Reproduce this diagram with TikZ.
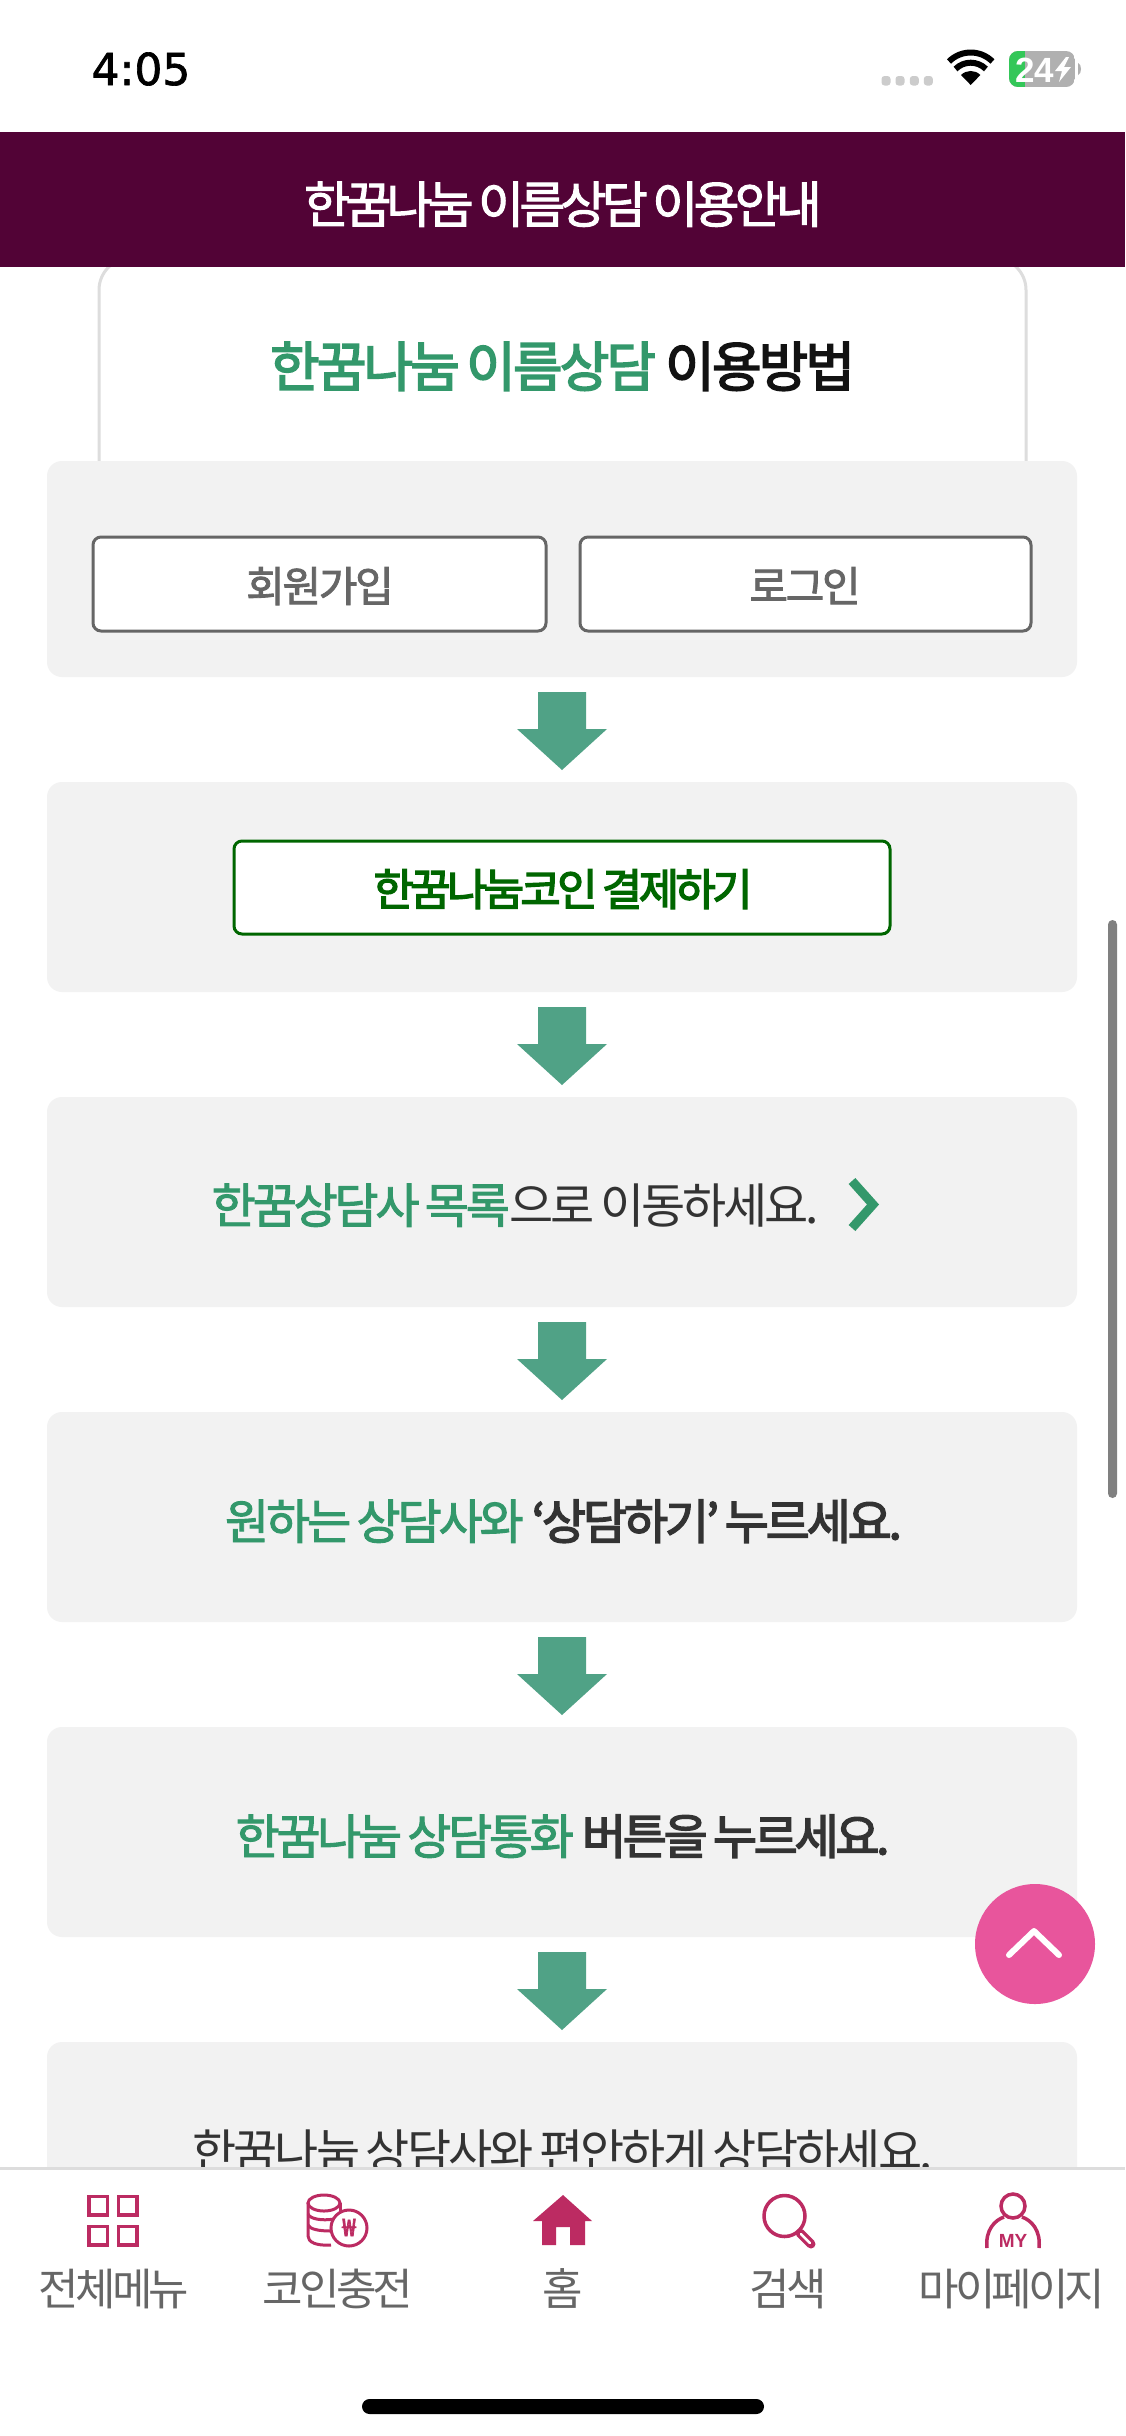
\documentclass[tikz,border=0pt]{standalone}
\usepackage{fontspec}
\newfontfamily\kreg{Noto Sans CJK KR}[WordSpace=0.7]
\newfontfamily\kmed{Noto Sans CJK KR}[FakeBold=2,WordSpace=0.7]
\newfontfamily\kbold{Noto Sans CJK KR}[FakeBold=3,WordSpace=0.7]
\newfontfamily\sysfont{DejaVu Sans}[FakeBold=1.5]
\newfontfamily\sysbold{Liberation Sans Bold}
\definecolor{hdr}{HTML}{520336}
\definecolor{panelbg}{HTML}{F2F2F2}
\definecolor{arrowg}{HTML}{50A286}
\definecolor{textg}{HTML}{33986B}
\definecolor{textd}{HTML}{333333}
\definecolor{btn}{HTML}{666666}
\definecolor{btng}{HTML}{006600}
\definecolor{crim}{HTML}{BC2B62}
\definecolor{pinkb}{HTML}{E8559C}
\definecolor{lineg}{HTML}{DDDDDD}
\definecolor{batg}{HTML}{34C759}
\newcommand\ktrack{0}
\newcommand\kR[1]{{\kreg\addfontfeature{LetterSpace=\ktrack}#1}}
\newcommand\kM[1]{{\kmed\addfontfeature{LetterSpace=\ktrack}#1}}
\newcommand\kB[1]{{\kbold\addfontfeature{LetterSpace=\ktrack}#1}}
\newcommand\wgap{\hspace{0.17em}}
% name, x, centre y, size, tracking, content
\newcommand\ktxt[6]{%
  \pgfmathsetmacro\kyy{#3+0.40*#4}%
  \node[txt] (#1) at (#2,\kyy) {\fontsize{#4}{#4}\selectfont\renewcommand\ktrack{#5}#6};}
\newcommand\flowpanel[3]{\fill[panelbg,rounded corners=15pt] (47,#2) rectangle (1077,#3) node[pos=.5,inner sep=0,minimum size=0] (#1) {};}
\newcommand\flowarrow[2]{\fill[arrowg] (538,#2) -- (586,#2) -- (586,#2+37) -- (607,#2+37) -- (562,#2+78) -- (517,#2+37) -- (538,#2+37) -- cycle;
  \coordinate (#1) at (562,#2);}
\tikzset{
  txt/.style={anchor=base,inner sep=0,outer sep=0},
  btnbox/.style={fill=white,draw=btn,line width=3pt,rounded corners=8pt},
  ico/.style={draw=crim,line width=3.5pt},
}
\begin{document}
\begin{tikzpicture}[x=1pt,y=-1pt]
\useasboundingbox (0,0) rectangle (1125,2436);
\fill[white] (0,0) rectangle (1125,2436);
% card
\draw[draw=lineg,line width=3pt,rounded corners=32pt] (99,480) -- (99,258) -- (1026,258) -- (1026,480);
% header
\fill[hdr] (0,132) rectangle (1125,267);
\ktxt{head}{563}{203}{50}{-9.6}{\textcolor{white}{\kM{한꿈나눔 이름상담 이용안내}}}
\ktxt{title}{562.5}{365}{54}{-5.5}{\textcolor{textg}{\kB{한꿈나눔 이름상담}}\wgap\textcolor{black!93}{\kB{이용방법}}}
% panels
\flowpanel{p1}{461}{677}
\flowpanel{p2}{782}{992}
\flowpanel{p3}{1097}{1307}
\flowpanel{p4}{1412}{1622}
\flowpanel{p5}{1727}{1937}
\flowpanel{p6}{2042}{2300}
% buttons
\draw[btnbox] (93,537) rectangle (546,631);
\draw[btnbox] (580,537) rectangle (1031,631);
\ktxt{join}{320}{585}{42}{-5.5}{\textcolor{btn}{\kM{회원가입}}}
\ktxt{login}{805}{585}{42}{-5.5}{\textcolor{btn}{\kM{로그인}}}
\draw[btnbox,draw=btng] (234,841) rectangle (890,934);
\ktxt{coin}{563}{888}{44}{-8.5}{\textcolor{btng}{\kB{한꿈나눔코인 결제하기}}}
% arrows
\flowarrow{a1}{692}
\flowarrow{a2}{1007}
\flowarrow{a3}{1322}
\flowarrow{a4}{1637}
\flowarrow{a5}{1952}
% step texts
\ktxt{s3}{515}{1204}{48}{-6.7}{\textcolor{textg}{\kM{한꿈상담사 목록}}\textcolor{textd}{\kR{으로 이동하세요.}}}
\draw[textg,line width=9pt] (852,1181) -- (873,1204.5) -- (852,1228);
\ktxt{s4}{563.5}{1520}{48}{-6.6}{\textcolor{textg}{\kM{원하는 상담사와}}\wgap\textcolor{textd}{\kB{‘상담하기’ 누르세요.}}}
\ktxt{s5}{562.5}{1835}{48}{-7}{\textcolor{textg}{\kM{한꿈나눔 상담통화}}\wgap\textcolor{textd}{\kB{버튼을 누르세요.}}}
\ktxt{s6}{562.5}{2150}{48}{-6}{\textcolor{textd}{\kR{한꿈나눔 상담사와 편안하게 상담하세요.}}}
% scrollbar
\fill[black!50,rounded corners=4.5pt] (1108,920) rectangle (1117,1498);
% top button
\fill[pinkb] (1035,1944) circle (60);
\draw[white,line width=6pt,line cap=round,line join=round] (1009,1955) -- (1034,1931) -- (1059,1955);
% bottom nav
\fill[white] (0,2168) rectangle (1125,2436);
\draw[lineg,line width=3pt] (0,2168) -- (1125,2168);
% grid icon
\foreach \x/\y in {87.5/2195,117/2195,87.5/2225,117/2225}
  \draw[ico] (\x+1.5,\y+1.5) rectangle (\x+20,\y+20);
% coin icon
\draw[ico,line width=3pt] (324,2203) ellipse (16 and 8);
\draw[ico,line width=3pt] (308,2203) -- (308,2236) .. controls (308,2242) and (316,2246) .. (331,2245);
\draw[ico,line width=3pt] (308,2214) .. controls (310,2219) and (322,2221) .. (334,2219);
\draw[ico,line width=3pt] (308,2225) .. controls (310,2229) and (318,2231) .. (331,2231);
\draw[ico,line width=3pt] (340,2203) -- (340,2211);
\fill[white] (349,2228) circle (19);
\draw[ico,line width=3pt] (349,2228) circle (18);
\node[txt,text=crim,font=\kbold\fontsize{24}{24}\selectfont] (won) at (349,2236) {₩};
% home icon
\fill[crim] (563,2195) -- (592,2221) -- (585,2221) -- (585,2245) -- (570,2245) -- (570,2227) -- (556,2227) -- (556,2245) -- (542,2245) -- (542,2221) -- (533,2221) -- cycle;
% search icon
\draw[ico] (784.5,2216) circle (20.5);
\draw[crim,line width=9pt,line cap=round] (800,2233) -- (811,2244);
\draw[white,line width=2.5pt,line cap=round] (801,2234) -- (810,2243);
% my icon
\draw[ico] (1013,2206) circle (12);
\draw[ico] (987,2248) .. controls (985,2230) and (995,2220) .. (1004,2217);
\draw[ico] (1039,2248) .. controls (1041,2230) and (1031,2220) .. (1022,2217);
\node[txt,text=crim,font=\sysbold\fontsize{19}{19}\selectfont] (my) at (1013,2247) {MY};
% nav labels
\ktxt{n1}{114}{2288}{44}{-9}{\textcolor{btn}{\kR{전체메뉴}}}
\ktxt{n2}{338}{2288}{44}{-9}{\textcolor{btn}{\kR{코인충전}}}
\ktxt{n3}{563}{2288}{44}{-9}{\textcolor{btn}{\kR{홈}}}
\ktxt{n4}{788}{2288}{44}{-9}{\textcolor{btn}{\kR{검색}}}
\ktxt{n5}{1012}{2288}{44}{-9}{\textcolor{btn}{\kR{마이페이지}}}
% home bar
\fill[black,rounded corners=7.5pt] (362,2399) rectangle (764,2414);
% status bar
\node[txt,font=\sysfont\fontsize{44}{44}\selectfont,text=black] (time) at (141,85) {4:05};
\foreach \x in {886,900,914.3,928.3}
  \fill[black!20,rounded corners=3pt] (\x-4.5,76) rectangle (\x+4.5,85.5);
% wifi
\fill[black] (970.7,85) -- (961,75) arc (225:315:13.7) -- cycle;
\draw[black,line width=6pt] (955.5,69) arc (225:315:21.5);
\draw[black,line width=6pt] (949,61.5) arc (225:315:30.7);
% battery
\begin{scope}
\clip[rounded corners=9pt] (1009,51) rectangle (1075,87);
\fill[black!31] (1009,51) rectangle (1075,87);
\fill[batg] (1009,51) rectangle (1025,87);
\end{scope}
\fill[black!31] (1078,63) .. controls (1082,64) and (1082,74) .. (1078,75) -- cycle;
\node[txt,text=white,font=\sysbold\fontsize{35}{35}\selectfont] (bat) at (1034.5,82) {24};
\fill[white] (1066,57) -- (1055,71) -- (1062,71) -- (1059,82) -- (1071,67) -- (1064,67) -- (1069,57) -- cycle;
\end{tikzpicture}
\end{document}
